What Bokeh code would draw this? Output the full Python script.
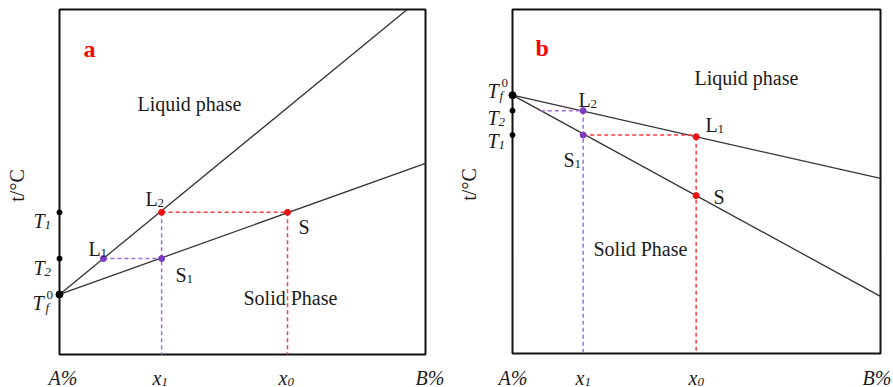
import math
from bokeh.plotting import figure
from bokeh.models import Range1d, Label
from bokeh.layouts import row
from bokeh.embed import file_html
from bokeh.resources import INLINE

# ---------------- Panel a data (x: A% -> B%, 0..100 ; y: temperature 0..100) -------------
a_Tf0 = 17.4          # melting point of pure solvent
a_T1 = 41.2
a_T2 = 27.8
a_x1 = 27.9
a_x0 = 62.3
a_L1_x = 12.0         # composition of L1 on the liquidus at T2
a_liq_x = [0.0, 95.0]
a_liq_y = [17.4, 100.0]
a_sol_x = [0.0, 100.0]
a_sol_y = [17.4, 55.4]

# ---------------- Panel b data ----------------
b_Tf0 = 75.1
b_T1 = 63.5
b_T2 = 70.6
b_x1 = 19.2
b_x0 = 49.9
b_tie_x = 7.7         # where the T2 tie line meets the solidus
b_L1_y = 63.0
b_S_y = 45.9
b_liq_x = [0.0, 100.0]
b_liq_y = [75.1, 50.9]
b_sol_x = [0.0, 100.0]
b_sol_y = [75.1, 16.6]

# axis box (composition 0..100, temperature 0..100)
box_lo = 0.0
box_hi = 100.0

FONT = "Liberation Serif"
INK = "#1a1a1a"
LINE = "#333333"
RED_D = "#ff3b3b"
PUR_D = "#a070d8"
RED_P = "#ee1111"
PUR_P = "#7a3cc0"
DASH = "4 3"


def make_panel(width, x0px, frame_left, frame_w, frame_bottom, frame_h):
    # the whole canvas is the plotting frame; the axis box is drawn as a mark
    xr = Range1d((x0px - frame_left) / frame_w * 100, (x0px + width - frame_left) / frame_w * 100)
    yr = Range1d((frame_bottom - 387) / frame_h * 100, frame_bottom / frame_h * 100)
    p = figure(width=width, height=387, x_range=xr, y_range=yr,
               output_backend="svg", toolbar_location=None,
               min_border_left=0, min_border_right=0, min_border_top=0, min_border_bottom=0)
    p.xaxis.visible = False
    p.yaxis.visible = False
    p.xgrid.grid_line_color = None
    p.ygrid.grid_line_color = None
    p.outline_line_color = None
    p.background_fill_color = "white"
    p.border_fill_color = "white"
    p.quad(left=[box_lo], right=[box_hi], bottom=[box_lo], top=[box_hi],
           fill_color=None, line_color="#111111", line_width=2)
    return p


def txt(p, conv, px, py, s, size=20, style="normal", color=INK, align="left",
        baseline="alphabetic", angle=0.0):
    x, y = conv(px, py)
    p.add_layout(Label(x=x, y=y, text=s, text_font=FONT, text_font_size=f"{size}px",
                       text_font_style=style, text_color=color, text_align=align,
                       text_baseline=baseline, angle=angle))


conv_a = lambda px, py: ((px - 59) / 366 * 100, (354 - py) / 345 * 100)
conv_b = lambda px, py: ((px - 512) / 368 * 100, (353 - py) / 344 * 100)

# ================= Panel a =================
pa = make_panel(450, 0, 59, 366, 354, 345)
pa.line(a_liq_x, a_liq_y, line_color=LINE, line_width=1.3)
pa.line(a_sol_x, a_sol_y, line_color=LINE, line_width=1.3)
pa.line([a_L1_x, a_x1], [a_T2, a_T2], line_color=PUR_D, line_width=1.5, line_dash=DASH)
pa.line([a_x1, a_x1], [a_T1, 0], line_color=PUR_D, line_width=1.5, line_dash=DASH)
pa.line([a_x1, a_x0], [a_T1, a_T1], line_color=RED_D, line_width=1.5, line_dash=DASH)
pa.line([a_x0, a_x0], [a_T1, 0], line_color=RED_D, line_width=1.5, line_dash=DASH)
pa.scatter([a_L1_x, a_x1], [a_T2, a_T2], size=6, color=PUR_P)
pa.scatter([a_x1, a_x0], [a_T1, a_T1], size=6, color=RED_P)
pa.scatter([0, 0], [a_T1, a_T2], size=5, color="black")
pa.scatter([0], [a_Tf0], size=7, color="black")

txt(pa, conv_a, 83, 48, "a", size=24, style="bold", color="#ff0000")
txt(pa, conv_a, 137, 103, "Liquid phase")
txt(pa, conv_a, 243, 297, "Solid Phase")
txt(pa, conv_a, 145, 198, "L"); txt(pa, conv_a, 157, 202, "2", size=13)
txt(pa, conv_a, 88, 248, "L"); txt(pa, conv_a, 100, 252, "1", size=13)
txt(pa, conv_a, 175, 274, "S"); txt(pa, conv_a, 186, 278, "1", size=13)
txt(pa, conv_a, 298, 226, "S")
txt(pa, conv_a, 33, 220, "T", style="italic"); txt(pa, conv_a, 44, 224, "1", size=13, style="italic")
txt(pa, conv_a, 33, 267, "T", style="italic"); txt(pa, conv_a, 44, 271, "2", size=13, style="italic")
txt(pa, conv_a, 32, 302, "T", style="italic"); txt(pa, conv_a, 45, 307, "f", size=13, style="italic")
txt(pa, conv_a, 46, 294, "0", size=13)
txt(pa, conv_a, 16, 185, "t/°C", align="center", baseline="middle", angle=math.pi / 2)
txt(pa, conv_a, 48, 377, "A%", style="italic")
txt(pa, conv_a, 152, 377, "x", style="italic"); txt(pa, conv_a, 161, 381, "1", size=13, style="italic")
txt(pa, conv_a, 278, 377, "x", style="italic"); txt(pa, conv_a, 287, 381, "0", size=13, style="italic")
txt(pa, conv_a, 415, 377, "B%", style="italic")

# ================= Panel b =================
pb = make_panel(443, 450, 512, 368, 353, 344)
pb.line(b_liq_x, b_liq_y, line_color=LINE, line_width=1.3)
pb.line(b_sol_x, b_sol_y, line_color=LINE, line_width=1.3)
pb.line([b_tie_x, b_x1], [b_T2, b_T2], line_color=PUR_D, line_width=1.5, line_dash=DASH)
pb.line([b_x1, b_x1], [b_T2, 0], line_color=PUR_D, line_width=1.5, line_dash=DASH)
pb.line([b_x1, b_x0], [b_T1, b_T1], line_color=RED_D, line_width=1.5, line_dash=DASH)
pb.line([b_x0, b_x0], [b_L1_y, 0], line_color=RED_D, line_width=1.5, line_dash=DASH)
pb.scatter([b_x1, b_x1], [b_T2, b_T1], size=6, color=PUR_P)
pb.scatter([b_x0, b_x0], [b_L1_y, b_S_y], size=6, color=RED_P)
pb.scatter([0, 0], [b_T1, b_T2], size=5, color="black")
pb.scatter([0], [b_Tf0], size=7, color="black")

txt(pb, conv_b, 535, 47, "b", size=24, style="bold", color="#ff0000")
txt(pb, conv_b, 694, 77, "Liquid phase")
txt(pb, conv_b, 593, 248, "Solid Phase")
txt(pb, conv_b, 578, 99, "L"); txt(pb, conv_b, 590, 103, "2", size=13)
txt(pb, conv_b, 563, 159, "S"); txt(pb, conv_b, 574, 163, "1", size=13)
txt(pb, conv_b, 705, 124, "L"); txt(pb, conv_b, 717, 128, "1", size=13)
txt(pb, conv_b, 713, 196, "S")
txt(pb, conv_b, 487, 90, "T", style="italic"); txt(pb, conv_b, 499, 95, "f", size=13, style="italic")
txt(pb, conv_b, 501, 82, "0", size=13)
txt(pb, conv_b, 487, 117, "T", style="italic"); txt(pb, conv_b, 498, 121, "2", size=13, style="italic")
txt(pb, conv_b, 487, 140, "T", style="italic"); txt(pb, conv_b, 498, 144, "1", size=13, style="italic")
txt(pb, conv_b, 468, 184, "t/°C", align="center", baseline="middle", angle=math.pi / 2)
txt(pb, conv_b, 498, 377, "A%", style="italic")
txt(pb, conv_b, 575, 377, "x", style="italic"); txt(pb, conv_b, 584, 381, "1", size=13, style="italic")
txt(pb, conv_b, 688, 377, "x", style="italic"); txt(pb, conv_b, 697, 381, "0", size=13, style="italic")
txt(pb, conv_b, 862, 377, "B%", style="italic")

layout = row(pa, pb)
open("out.html", "w").write(file_html(layout, INLINE))
